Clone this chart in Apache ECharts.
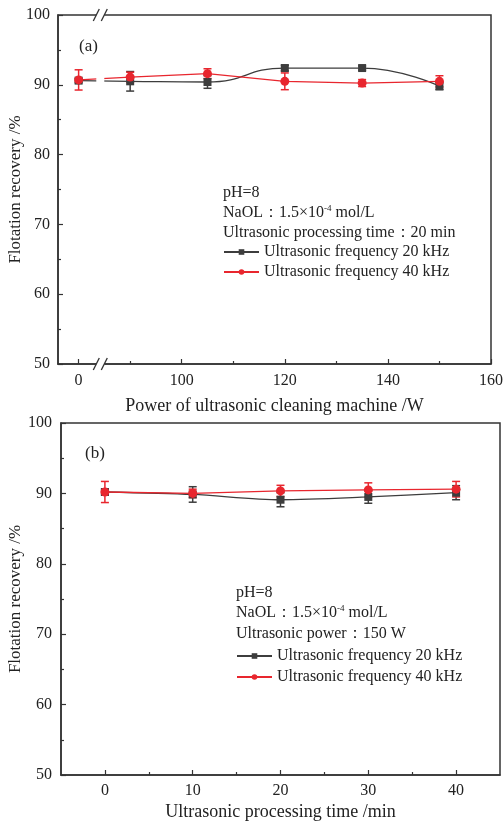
<!DOCTYPE html>
<html lang="en">
<head>
<meta charset="UTF-8">
<title>Flotation recovery</title>
<script src="https://cdn.jsdelivr.net/npm/echarts@6/dist/echarts.min.js"></script>
<style>
  html, body { margin: 0; padding: 0; background: #fff; }
</style>
</head>
<body>
<div id="chart" style="width:504px;height:821px;"></div>
<script>
// (a) power of ultrasonic cleaning machine, W
var powerA = [0, 90, 105, 120, 135, 150];
var rec20A = [90.6, 90.5, 90.4, 92.4, 92.4, 89.8];
var err20A = [0.3, 1.4, 0.9, 0.4, 0.3, 0.5];
var rec40A = [90.7, 91.1, 91.6, 90.5, 90.25, 90.5];
var err40A = [1.45, 0.7, 0.7, 1.2, 0.5, 0.8];
var labelsA = [0, 100, 120, 140, 160];
var minorA = [90, 110, 130, 150];

// (b) ultrasonic processing time, min
var timeB = [0, 10, 20, 30, 40];
var rec20B = [90.2, 89.85, 89.1, 89.5, 90.1];
var err20B = [0.4, 1.1, 1.0, 0.9, 1.0];
var rec40B = [90.2, 90.0, 90.35, 90.5, 90.6];
var err40B = [1.5, 0.6, 0.8, 1.0, 1.1];
var labelsB = [0, 10, 20, 30, 40];
var minorB = [5, 15, 25, 35];

var name20 = 'Ultrasonic frequency 20 kHz';
var name40 = 'Ultrasonic frequency 40 kHz';

var RED = '#e8262e';
var DARK = '#3d3d3d';
var AXIS = '#333';
var TXT = '#222';
var FONT = 'Liberation Serif';

// axis (a) is broken: 0 W is drawn at 80 on the axis
var zeroAt = 80;
function posA(p) { return p === 0 ? zeroAt : p; }

function pairs(xs, ys, fx) {
    return xs.map(function (x, i) { return [fx ? fx(x) : x, ys[i]]; });
}

function errBars(xs, ys, errs, color, gi, fx) {
    return {
        type: 'custom',
        xAxisIndex: gi * 2,
        yAxisIndex: gi,
        silent: true,
        z: 3,
        data: xs.map(function (x, i) { return [fx ? fx(x) : x, ys[i] - errs[i], ys[i] + errs[i]]; }),
        encode: { x: 0, y: [1, 2] },
        renderItem: function (params, api) {
            var lo = api.coord([api.value(0), api.value(1)]);
            var hi = api.coord([api.value(0), api.value(2)]);
            var w = 4;
            var st = { stroke: color, lineWidth: 1.5 };
            return {
                type: 'group',
                children: [
                    { type: 'line', shape: { x1: lo[0], y1: lo[1], x2: hi[0], y2: hi[1] }, style: st },
                    { type: 'line', shape: { x1: lo[0] - w, y1: lo[1], x2: lo[0] + w, y2: lo[1] }, style: st },
                    { type: 'line', shape: { x1: hi[0] - w, y1: hi[1], x2: hi[0] + w, y2: hi[1] }, style: st }
                ]
            };
        }
    };
}

function lineSeries(name, data, color, symbol, gi, smooth) {
    return {
        name: name,
        type: 'line',
        xAxisIndex: gi * 2,
        yAxisIndex: gi,
        data: data,
        smooth: smooth,
        symbol: symbol,
        symbolSize: symbol === 'rect' ? 8 : 9,
        itemStyle: { color: color },
        lineStyle: { color: color, width: 1.3 },
        z: 4
    };
}

function yAxis(gi, margin, gap) {
    return {
        type: 'value',
        gridIndex: gi,
        min: 50,
        max: 100,
        interval: 10,
        name: 'Flotation recovery /%',
        nameLocation: 'middle',
        nameGap: gap,
        nameMoveOverlap: false,
        nameTextStyle: { fontFamily: FONT, fontSize: 17, color: TXT },
        axisLine: { show: true, onZero: false, lineStyle: { color: AXIS, width: 1.5 } },
        axisTick: { show: true, inside: true, length: 5, lineStyle: { color: AXIS, width: 1.2 } },
        minorTick: { show: true, splitNumber: 2, length: 3, lineStyle: { color: AXIS, width: 1.2 } },
        axisLabel: { fontFamily: FONT, fontSize: 16, color: TXT, margin: margin },
        splitLine: { show: false }
    };
}

function xMain(gi, min, max, labels, fmt, name, margin, gap) {
    return {
        type: 'value',
        gridIndex: gi,
        position: 'bottom',
        min: min,
        max: max,
        name: name,
        nameLocation: 'middle',
        nameGap: gap,
        nameMoveOverlap: false,
        nameTextStyle: { fontFamily: FONT, fontSize: 18, color: TXT },
        axisLine: { show: true, onZero: false, lineStyle: { color: AXIS, width: 1.5 } },
        axisTick: { show: true, inside: true, length: 5, customValues: labels, lineStyle: { color: AXIS, width: 1.2 } },
        axisLabel: { fontFamily: FONT, fontSize: 16, color: TXT, margin: margin, customValues: labels, formatter: fmt },
        splitLine: { show: false }
    };
}

function xMinor(gi, min, max, ticks) {
    return {
        type: 'value',
        gridIndex: gi,
        position: 'bottom',
        min: min,
        max: max,
        axisLine: { show: false, onZero: false },
        axisTick: { show: true, inside: true, length: 3, customValues: ticks, lineStyle: { color: AXIS, width: 1.2 } },
        axisLabel: { show: false },
        splitLine: { show: false }
    };
}

function note(x, y, text) {
    return {
        type: 'text',
        x: x,
        y: y,
        z: 120,
        style: {
            text: text,
            fontFamily: FONT,
            fontSize: 16,
            fill: TXT,
            verticalAlign: 'middle',
            rich: { sup: { fontFamily: FONT, fontSize: 9, fill: TXT, verticalAlign: 'top', padding: [0, 0, 8, 0] } }
        }
    };
}

function legendAt(left, top, gap) {
    return {
        left: left,
        top: top,
        orient: 'vertical',
        itemWidth: 35,
        itemHeight: 7,
        itemGap: gap,
        padding: 0,
        data: [name20, name40],
        textStyle: { fontFamily: FONT, fontSize: 16, lineHeight: 16, color: TXT },
        selectedMode: false
    };
}

var chart = echarts.init(document.getElementById('chart'));

var option = {
    animation: false,
    backgroundColor: '#fff',
    grid: [
        { left: 58, top: 15, width: 433, height: 349, outerBoundsMode: 'none', containLabel: false,
          show: true, borderColor: AXIS, borderWidth: 1.5, backgroundColor: 'transparent' },
        { left: 61, top: 423, width: 439, height: 352, outerBoundsMode: 'none', containLabel: false,
          show: true, borderColor: AXIS, borderWidth: 1.5, backgroundColor: 'transparent' }
    ],
    legend: [legendAt(223, 244, 4), legendAt(236, 648, 5)],
    xAxis: [
        xMain(0, 76, 160, labelsA.map(posA), function (v) { return v === zeroAt ? '0' : String(v); },
            'Power of ultrasonic cleaning machine /W', 9, 33),
        xMinor(0, 76, 160, minorA),
        xMain(1, -5, 45, labelsB, function (v) { return String(v); },
            'Ultrasonic processing time /min', 8, 28),
        xMinor(1, -5, 45, minorB)
    ],
    yAxis: [yAxis(0, 8, 34), yAxis(1, 9, 37)],
    series: [
        errBars(powerA, rec20A, err20A, DARK, 0, posA),
        errBars(powerA, rec40A, err40A, RED, 0, posA),
        lineSeries(name20, pairs(powerA, rec20A, posA), DARK, 'rect', 0, 0.5),
        lineSeries(name40, pairs(powerA, rec40A, posA), RED, 'circle', 0, false),
        errBars(timeB, rec20B, err20B, DARK, 1),
        errBars(timeB, rec40B, err40B, RED, 1),
        lineSeries(name20, pairs(timeB, rec20B), DARK, 'rect', 1, 0.3),
        lineSeries(name40, pairs(timeB, rec40B), RED, 'circle', 1, false)
    ]
};
chart.setOption(option);

// break marks on axis (a), plus the panel notes
var bx = chart.convertToPixel({ xAxisIndex: 0 }, 84.3);
var topY = 15, botY = 364;
function slash(x1, y1, x2, y2) {
    return { type: 'line', z: 101, shape: { x1: x1, y1: y1, x2: x2, y2: y2 }, style: { stroke: AXIS, lineWidth: 1.3 } };
}
var gfx = [
    { type: 'rect', z: 100, shape: { x: bx - 4.5, y: topY - 3, width: 8, height: botY - topY + 6 }, style: { fill: '#fff' } },
    slash(bx - 7.5, topY + 6, bx - 1.5, topY - 6),
    slash(bx + 0.5, topY + 6, bx + 6.5, topY - 6),
    slash(bx - 7.5, botY + 6, bx - 1.5, botY - 6),
    slash(bx + 0.5, botY + 6, bx + 6.5, botY - 6),
    { type: 'text', x: 79, y: 47, z: 120, style: { text: '(a)', fontFamily: FONT, fontSize: 17, fill: TXT, verticalAlign: 'middle' } },
    { type: 'text', x: 85, y: 454, z: 120, style: { text: '(b)', fontFamily: FONT, fontSize: 17, fill: TXT, verticalAlign: 'middle' } },
    note(223, 193, 'pH=8'),
    note(223, 213, 'NaOL：1.5×10{sup|-4} mol/L'),
    note(223, 233, 'Ultrasonic processing time：20 min'),
    note(236, 593, 'pH=8'),
    note(236, 613, 'NaOL：1.5×10{sup|-4} mol/L'),
    note(236, 634, 'Ultrasonic power：150 W')
];
chart.setOption({ graphic: gfx });
</script>
</body>
</html>
